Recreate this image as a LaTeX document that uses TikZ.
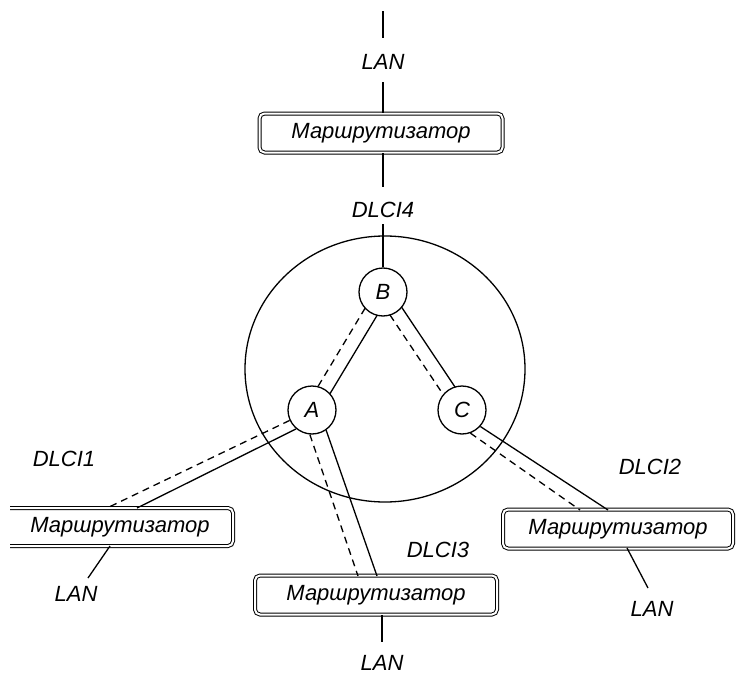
\documentclass[tikz,border=0pt]{standalone}
\usepackage{fontspec}
\setmainfont{Liberation Sans}
\usetikzlibrary{calc}
\begin{document}
\begin{tikzpicture}[x=1pt,y=-1pt,
  line width=1.3pt,
  lbl/.style={font=\fontsize{22}{26}\selectfont\itshape, inner sep=0pt},
  boxline/.style={double, double distance=2pt, line width=1pt, rounded corners=5pt},
  router/.style={draw, boxline, minimum width=243pt, minimum height=39pt, inner sep=0pt, font=\fontsize{22}{26}\selectfont\itshape},
  sw/.style={circle, draw, minimum size=48pt, inner sep=0pt, line width=1.3pt, font=\fontsize{22}{26}\selectfont\itshape},
  dsh/.style={dash pattern=on 7pt off 5pt},
  pair/.style={shorten <=23pt, shorten >=23pt},
]
\useasboundingbox (0,0) rectangle (737,680);

% network cloud
\draw (385,369) ellipse [x radius=140pt, y radius=133pt];

% switches
\node[sw] (B) at (383,292) {B};
\node[sw] (A) at (312,410) {A};
\node[sw] (C) at (462,410) {C};

% top router and LAN
\coordinate (t0) at (383,11);
\coordinate (t1) at (383,38);
\node[lbl] (lanT) at (383,62) {LAN};
\coordinate (t2) at (383,82);
\node[router] (RT) at (381,133) {Маршрутизатор};
\node[lbl] (dT) at (383,210) {DLCI4};
\coordinate (t3) at (383,187);
\coordinate (t4) at (383,224);
\draw (t0) -- (t1);
\draw (t2) -- (t2 |- RT.north);
\draw (t3 |- RT.south) -- (t3);
\draw (t4) -- (B.north);

% B-A and B-C trunks
\draw[dsh, pair] ($(B)!7pt!-90:(A)$) -- ($(A)!7pt!90:(B)$);
\draw[pair] ($(B)!7pt!90:(A)$) -- ($(A)!7pt!-90:(B)$);
\draw[dsh, pair] ($(B)!7pt!-90:(C)$) -- ($(C)!7pt!90:(B)$);
\draw[pair] ($(B)!7pt!90:(C)$) -- ($(C)!7pt!-90:(B)$);

% left router (open on the left)
\draw[boxline] (10,508) -- (233,508) -- (233,546) -- (10,546);
\node[lbl] (RL) at (120,527) {Маршрутизатор};
\node[lbl] (d1) at (64,459) {DLCI1};
\coordinate (L1) at (107,508);
\coordinate (L2) at (137,508);
\draw[dsh] (A.205) -- (L1);
\draw (A.230) -- (L2);
\coordinate (L3) at (110,546);
\coordinate (L4) at (88,578);
\draw (L3) -- (L4);
\node[lbl] (lanL) at (76,594) {LAN};

% bottom router
\node[router, minimum width=242pt] (RB) at (376,595) {Маршрутизатор};
\node[lbl] (d3) at (438,550) {DLCI3};
\coordinate (B1) at (358,576);
\coordinate (B2) at (377,576);
\draw[dsh] (A.265) -- (B1);
\draw (A.305) -- (B2);
\coordinate (B3) at (382,642);
\draw (B3 |- RB.south) -- (B3);
\node[lbl] (lanB) at (382,663) {LAN};

% right router
\node[router, minimum width=230pt] (RR) at (618,529) {Маршрутизатор};
\node[lbl] (d2) at (650,467) {DLCI2};
\coordinate (R1) at (580,510);
\coordinate (R2) at (608,510);
\draw[dsh] (C.290) -- (R1);
\draw (C.318) -- (R2);
\coordinate (R3) at (627,548);
\coordinate (R4) at (648,588);
\draw (R3) -- (R4);
\node[lbl] (lanR) at (652,609) {LAN};
\end{tikzpicture}
\end{document}
